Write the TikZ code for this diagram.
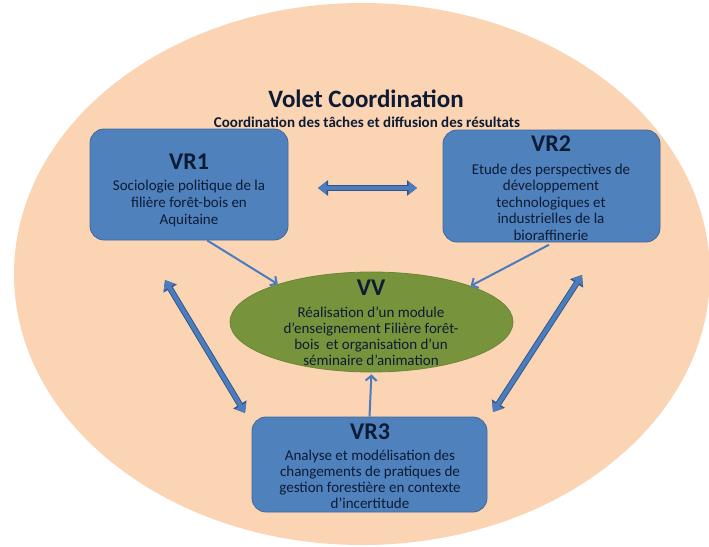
\documentclass[tikz,border=0pt]{standalone}
\usepackage{fontspec}
\setmainfont{Carlito}
\usetikzlibrary{arrows.meta,shapes.geometric}
\definecolor{peach}{HTML}{FBD4B4}
\definecolor{boxfill}{HTML}{4F81BD}
\definecolor{boxbord}{HTML}{41689A}
\definecolor{vvfill}{HTML}{77933C}
\definecolor{vvbord}{HTML}{6B8636}
\definecolor{txt}{HTML}{0D1B33}
\definecolor{abfill}{HTML}{4A7CBE}
\definecolor{abord}{HTML}{2F5487}
\tikzset{
  vbox/.style={draw=boxbord, line width=0.8pt, fill=boxfill, rounded corners=14pt, inner sep=0pt},
  vvnode/.style={ellipse, draw=vvbord, line width=0.8pt, fill=vvfill, inner sep=0pt},
  ttext/.style={text=txt, font=\bfseries\fontsize{24}{26}\selectfont, inner sep=0pt},
  btext/.style={text=txt, align=center, font=\fontsize{15}{#1}\selectfont, inner sep=0pt},
  btext/.default=16.5,
  thinarrow/.style={draw=abfill, line width=2pt, -{Straight Barb[length=5pt,width=11pt]}},
  dblarrow/.style={draw=abfill, line width=4.2pt,
    {Triangle[length=8.5pt,width=12.5pt]}-{Triangle[length=8.5pt,width=12.5pt]},
    preaction={draw=abord, line width=6pt,
      {Triangle[length=10pt,width=15pt]}-{Triangle[length=10pt,width=15pt]}}},
}
\begin{document}
\begin{tikzpicture}[x=1pt,y=-1pt]
\useasboundingbox (0,0) rectangle (709,546);
\node[ellipse, fill=peach, minimum width=696pt, minimum height=542pt, inner sep=0pt] (bg) at (362,274) {};
\node[text=txt, font=\bfseries\fontsize{25}{28}\selectfont] (title) at (366,99) {Volet Coordination};
\node[text=txt, font=\bfseries\fontsize{15}{17}\selectfont] (sub) at (367,122) {Coordination des tâches et diffusion des résultats};

\node[vbox, minimum width=198pt, minimum height=111pt] (vr1) at (189,184.5) {};
\node[ttext] (vr1h) at (189,162) {VR1};
\node[btext=17] (vr1t) at (189,203) {Sociologie politique de la\\filière forêt-bois en\\Aquitaine};

\node[vbox, minimum width=217pt, minimum height=112pt] (vr2) at (551.5,186) {};
\node[ttext] (vr2h) at (551,144) {VR2};
\node[btext=16.5] (vr2t) at (551,202) {Etude des perspectives de\\développement\\technologiques et\\industrielles de la\\bioraffinerie};

\node[vvnode, minimum width=283pt, minimum height=100pt] (vv) at (371.5,322) {};
\node[ttext] (vvh) at (371,288) {VV};
\node[btext=16] (vvt) at (371,336) {Réalisation d’un module\\d’enseignement Filière forêt-\\bois\ \ et organisation d’un\\séminaire d’animation};

\node[vbox, minimum width=235pt, minimum height=95pt] (vr3) at (369.5,464.5) {};
\node[ttext] (vr3h) at (370,432) {VR3};
\node[btext=16] (vr3t) at (370,479.5) {Analyse et modélisation des\\changements de pratiques de\\gestion forestière en contexte\\d’incertitude};

% thin arrows
\draw[thinarrow] (vr1.-72) -- (vv.158);
\draw[thinarrow, shorten <=5pt] (vr2.-88) -- (vv.20);
\draw[thinarrow, shorten >=2pt] (vr3.north) -- (vv.south);

% double arrows
\coordinate (h1) at (318,188);
\coordinate (h2) at (417,188);
\coordinate (l1) at (165,280);
\coordinate (l2) at (245,413);
\coordinate (r1) at (582,275);
\coordinate (r2) at (493,412);
\draw[dblarrow] (h1) -- (h2);
\draw[dblarrow] (l1) -- (l2);
\draw[dblarrow] (r1) -- (r2);
\end{tikzpicture}
\end{document}
